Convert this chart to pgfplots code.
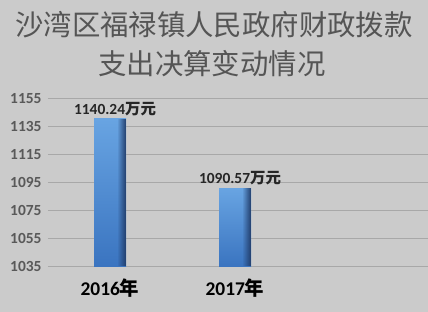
\documentclass[border=0pt]{standalone}
\usepackage{pgfplots}
\pgfplotsset{compat=1.18}
\usetikzlibrary{fadings}
\usepackage{fontspec}
\setmainfont{Carlito}
\newfontfamily\cjk{Noto Sans CJK SC}

\definecolor{bgc}{RGB}{203,203,203}
\definecolor{gridc}{RGB}{168,168,168}
\definecolor{titlec}{RGB}{85,85,85}
\definecolor{tickc}{RGB}{89,89,89}
\definecolor{labelc}{RGB}{38,38,38}
\definecolor{barTop}{RGB}{104,164,226}
\definecolor{barBot}{RGB}{58,116,192}
\definecolor{barEdge}{RGB}{34,62,108}

\begin{document}
\begin{tikzpicture}[x=1bp,y=1bp]
  \fill[bgc] (0,0) rectangle (428,312);
  \node[font=\cjk\fontsize{28.5}{28.5}\selectfont, text=titlec] at (214,287) {沙湾区福禄镇人民政府财政拨款};
  \node[font=\cjk\fontsize{28.5}{28.5}\selectfont, text=titlec] at (212,248) {支出决算变动情况};
  \begin{axis}[
    at={(48bp,45.7bp)}, anchor=south west,
    scale only axis, width=380bp, height=168bp,
    xmin=-0.496, xmax=2.544,
    ymin=1035, ymax=1155,
    ytick={1035,1055,...,1155},
    xtick={0,1},
    xticklabels={2016{\cjk\bfseries 年}, 2017{\cjk\bfseries 年}},
    major tick length=0pt,
    axis line style={draw=none},
    ymajorgrids,
    grid style={gridc, line width=0.8bp},
    /pgf/number format/.cd, 1000 sep={}, assume math mode=true, /pgfplots/.cd,
    y tick label style={font=\bfseries\fontsize{15.5}{15.5}\selectfont, text=tickc, anchor=east, xshift=-3bp},
    x tick label style={font=\bfseries\fontsize{19.5}{19.5}\selectfont, text=black, anchor=base, yshift=-29.4bp},
    ybar, bar width=32bp, bar shift=0pt,
    nodes near coords style={font=\bfseries\fontsize{15.5}{15.5}\selectfont, text=labelc, xshift=5bp},
    bar rim/.style={draw=none, fill=barEdge, path fading=west, bar width=9bp, bar shift=11.5bp},
  ]
    % bars: one plot per bar, each with its own vertical shading
    \addplot[draw=none, top color=barTop, bottom color=barBot,
             point meta=explicit symbolic, nodes near coords]
      coordinates {(0,1140.24) [1140.24{\cjk\bfseries 万元}]};
    \addplot[draw=none, top color=barTop, bottom color=barBot,
             point meta=explicit symbolic, nodes near coords]
      coordinates {(1,1090.57) [1090.57{\cjk\bfseries 万元}]};
    % darker rim along the right side of each bar
    \addplot[bar rim] coordinates {(0,1140.24)};
    \addplot[bar rim] coordinates {(1,1090.57)};
  \end{axis}
  \pgfresetboundingbox
  \useasboundingbox (0,0) rectangle (428,312);
\end{tikzpicture}
\end{document}
